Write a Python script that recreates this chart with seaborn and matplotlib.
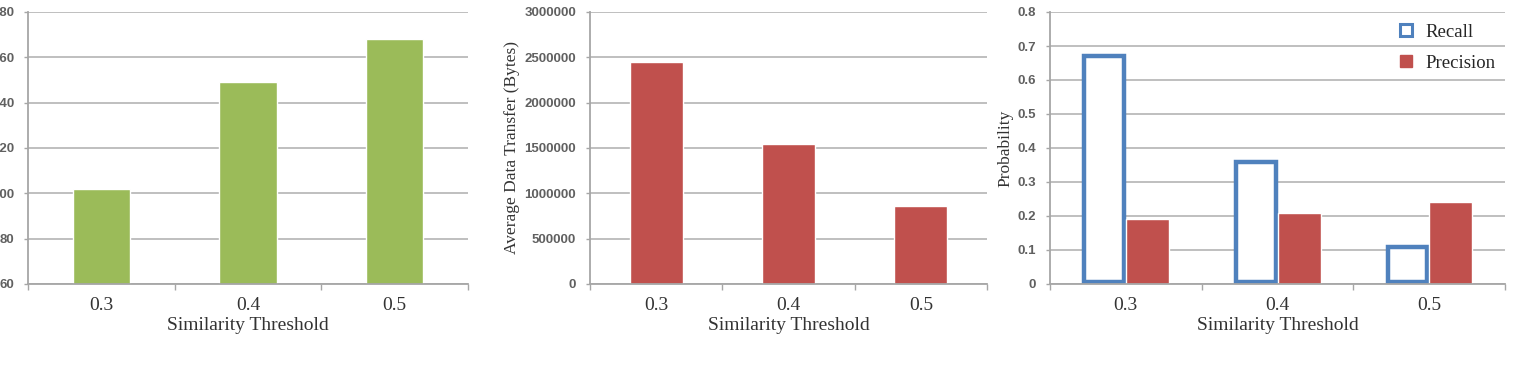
import matplotlib
matplotlib.use("Agg")
import matplotlib.pyplot as plt
import seaborn as sns
import pandas as pd
import numpy as np
from matplotlib.lines import Line2D

thresholds = ["0.3", "0.4", "0.5"]
panel1_values = [102, 149, 168]
transfer_bytes = [2450000, 1545000, 860000]
recall = [0.67, 0.36, 0.11]
precision = [0.19, 0.21, 0.24]

panel1_ticks = [60, 80, 100, 120, 140, 160, 180]
transfer_ticks = [0, 500000, 1000000, 1500000, 2000000, 2500000, 3000000]
prob_ticks = [0, 0.1, 0.2, 0.3, 0.4, 0.5, 0.6, 0.7, 0.8]

GREEN = "#9BBB59"
RED = "#C0504D"
BLUE = "#4F81BD"
GRID = "#BFBFBF"
SPINE = "#A6A6A6"
TICKTXT = "#606060"
TXT = "#333333"
SERIF = "Liberation Serif"
SANS = "Liberation Sans"

sns.set_theme(style="white")
plt.rcParams["font.family"] = ["Liberation Sans", "DejaVu Sans"]

fig = plt.figure(figsize=(15.24, 3.74), dpi=100)
H = 374.0
W = 1524.0
bottom = 1 - 284 / H
height = (284 - 12) / H
ax1 = fig.add_axes([28 / W, bottom, 440 / W, height])
ax2 = fig.add_axes([590 / W, bottom, 397 / W, height])
ax3 = fig.add_axes([1050 / W, bottom, 455 / W, height])


def style(ax, yticks, ylabels):
    ax.set_xlim(-0.5, 2.5)
    ax.set_ylim(yticks[0], yticks[-1])
    ax.set_yticks(yticks)
    ax.set_yticklabels(ylabels, fontsize=9.5, color=TICKTXT, fontweight="bold",
                       family=SANS)
    ax.yaxis.grid(True, color=GRID, linewidth=1.4)
    ax.set_axisbelow(True)
    for s in ["top", "right"]:
        ax.spines[s].set_visible(False)
    for s in ["left", "bottom"]:
        ax.spines[s].set_color(SPINE)
        ax.spines[s].set_linewidth(1.3)
    ax.tick_params(axis="y", which="major", length=3, width=1, color=SPINE,
                   pad=7, left=True)
    ax.set_xticks([0, 1, 2])
    ax.set_xticklabels(thresholds, fontsize=14, family=SERIF, color=TXT)
    ax.set_xticks([-0.5, 0.5, 1.5, 2.5], minor=True)
    ax.tick_params(axis="x", which="major", length=0, pad=9.5)
    ax.tick_params(axis="x", which="minor", length=4, width=1, color=SPINE,
                   bottom=True)
    ax.set_xlabel("Similarity Threshold", fontsize=14, family=SERIF,
                  color=TXT, labelpad=2)


# Panel 1
df1 = pd.DataFrame({"threshold": thresholds, "value": panel1_values})
sns.barplot(data=df1, x="threshold", y="value", color=GREEN, width=0.39,
            saturation=1, ax=ax1)
style(ax1, panel1_ticks, [str(t) for t in panel1_ticks])
ax1.set_ylabel("")

# Panel 2
df2 = pd.DataFrame({"threshold": thresholds, "bytes": transfer_bytes})
sns.barplot(data=df2, x="threshold", y="bytes", color=RED, width=0.4,
            saturation=1, ax=ax2)
style(ax2, transfer_ticks, [str(t) for t in transfer_ticks])
ax2.set_ylabel("Average Data Transfer (Bytes)", fontsize=12.5, family=SERIF,
               color=TXT, labelpad=3)

# Panel 3
df3 = pd.DataFrame({
    "threshold": thresholds * 2,
    "metric": ["Recall"] * 3 + ["Precision"] * 3,
    "prob": recall + precision,
})
sns.barplot(data=df3, x="threshold", y="prob", hue="metric",
            palette={"Recall": BLUE, "Precision": RED}, width=0.57,
            saturation=1, ax=ax3, legend=False)
for bar, m in zip(ax3.patches, ["Recall"] * 3 + ["Precision"] * 3):
    if m == "Recall":
        w = bar.get_width()
        bar.set_x(bar.get_x() + 0.012)
        bar.set_width(w - 0.024)
        bar.set_height(bar.get_height() - 0.006)
        bar.set_y(0.006)
        bar.set_facecolor("white")
        bar.set_edgecolor(BLUE)
        bar.set_linewidth(3.2)
style(ax3, prob_ticks, ["0" if t == 0 else f"{t:.1f}" for t in prob_ticks])
ax3.set_ylabel("Probability", fontsize=12.5, family=SERIF, color=TXT,
               labelpad=3)
handles = [
    Line2D([], [], marker="s", linestyle="none", markersize=8,
           markerfacecolor="white", markeredgecolor=BLUE, markeredgewidth=2.2,
           label="Recall"),
    Line2D([], [], marker="s", linestyle="none", markersize=9,
           markerfacecolor=RED, markeredgecolor=RED, label="Precision"),
]
leg = ax3.legend(handles=handles, loc="upper right", frameon=False,
                 prop={"family": SERIF, "size": 13.5}, handletextpad=0.5,
                 labelspacing=0.75, borderaxespad=0.0, handlelength=1.0,
                 bbox_to_anchor=(0.995, 0.985))

fig.savefig("out.png", dpi=100, facecolor="white")
